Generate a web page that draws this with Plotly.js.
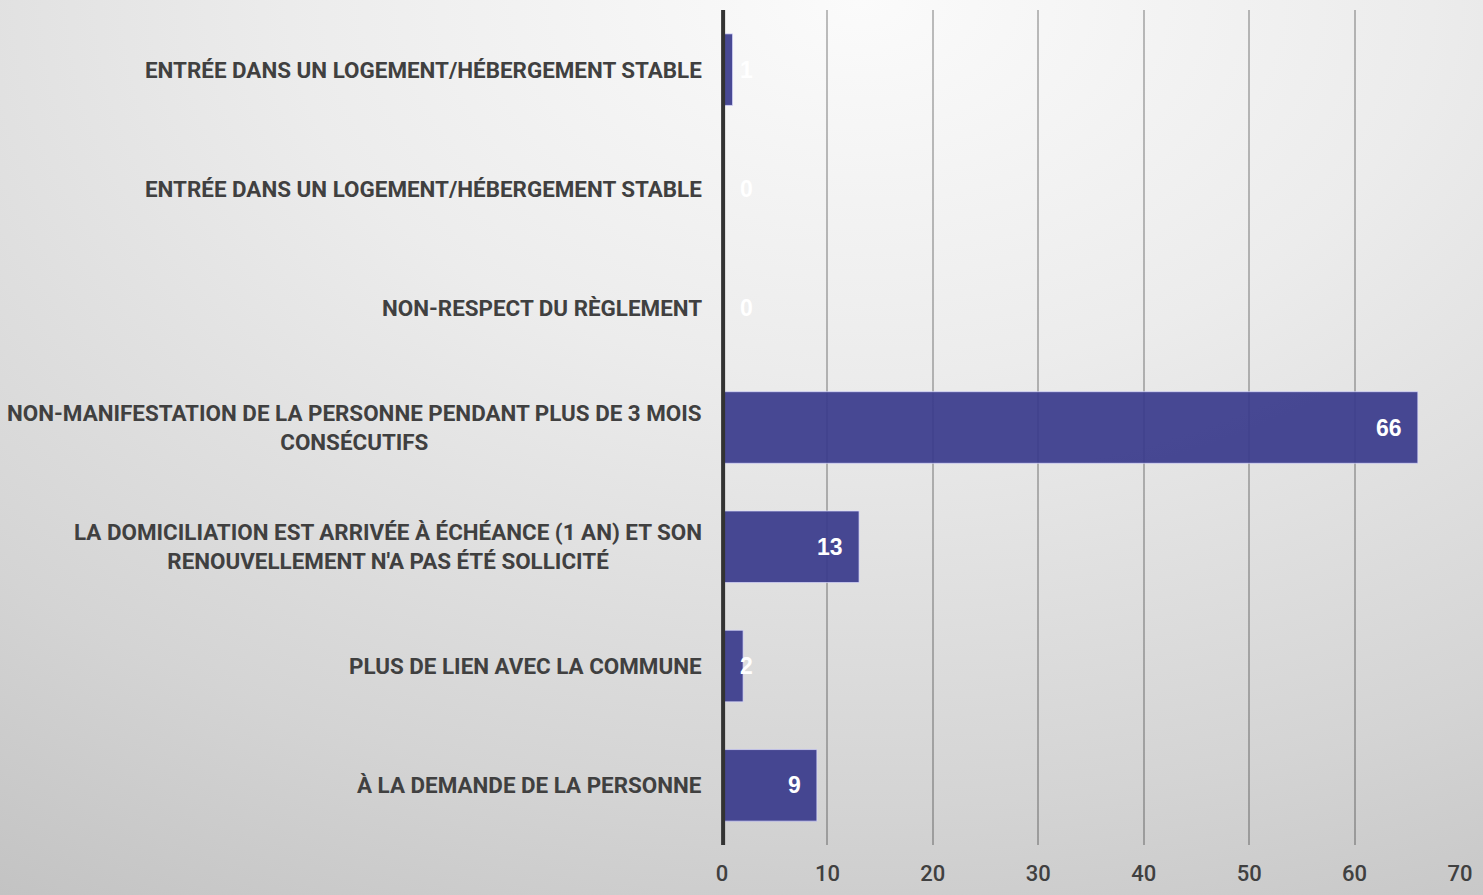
<!DOCTYPE html>
<html>
<head>
<meta charset="utf-8">
<script src="https://cdn.plot.ly/plotly-3.0.1.min.js"></script>
<style>
html,body{margin:0;padding:0;}
#wrap{width:1483px;height:895px;background:radial-gradient(ellipse 110% 120% at 58% 0%, #fbfbfb 0%, #ececec 35%, #d4d4d4 75%, #c2c2c2 100%);}
#chart{width:1483px;height:895px;}
</style>
</head>
<body>
<div id="wrap"><div id="chart"></div></div>
<script>
const categories = [
  "ENTRÉE DANS UN LOGEMENT/HÉBERGEMENT STABLE",
  "ENTRÉE DANS UN LOGEMENT/HÉBERGEMENT STABLE",
  "NON-RESPECT DU RÈGLEMENT",
  "NON-MANIFESTATION DE LA PERSONNE PENDANT PLUS DE 3 MOIS<br>CONSÉCUTIFS",
  "LA DOMICILIATION EST ARRIVÉE À ÉCHÉANCE (1 AN) ET SON<br>RENOUVELLEMENT N'A PAS ÉTÉ SOLLICITÉ",
  "PLUS DE LIEN AVEC LA COMMUNE",
  "À LA DEMANDE DE LA PERSONNE"
];
const values = [1, 0, 0, 66, 13, 2, 9];
const xTicks = [0, 10, 20, 30, 40, 50, 60, 70];

const positions = categories.map((c, i) => i);
const xMax = 70;
const plotW = 1460 - 722;
const pxPerUnit = plotW / xMax;

const labelFont = "Roboto, 'DejaVu Sans Condensed', sans-serif";

const annotations = [];
categories.forEach((c, i) => {
  annotations.push({
    xref: 'paper', yref: 'y', x: 0, y: i, xanchor: 'right', yanchor: 'middle',
    xshift: -18, text: '<b>' + c + '</b>', showarrow: false, align: 'center',
    font: {family: labelFont, size: 22.4, color: '#404040'}
  });
});
values.forEach((v, i) => {
  const fits = v * pxPerUnit > 45;
  annotations.push({
    xref: 'x', yref: 'y', x: fits ? v : 0, y: i,
    xanchor: fits ? 'right' : 'left', yanchor: 'middle',
    xshift: fits ? -14 : 16, showarrow: false,
    text: '<b>' + v + '</b>',
    font: {family: "'Liberation Sans', Arial, sans-serif", size: 23, color: '#ffffff'}
  });
});

const trace = {
  type: 'bar', orientation: 'h',
  x: values, y: positions,
  width: 0.6,
  marker: {color: 'rgba(58,59,140,0.93)', line: {color: 'rgba(220,220,255,0.7)', width: 1}},
  hoverinfo: 'x'
};

const layout = {
  width: 1483, height: 895,
  paper_bgcolor: 'rgba(0,0,0,0)', plot_bgcolor: 'rgba(0,0,0,0)',
  margin: {l: 722, r: 23, t: 10, b: 50},
  showlegend: false,
  xaxis: {
    range: [0, xMax], tickvals: xTicks, ticktext: xTicks.map(String),
    showgrid: true, gridcolor: 'rgba(0,0,0,0.25)', gridwidth: 2,
    zeroline: false, showline: false, ticks: '', ticklabelstandoff: 13,
    tickfont: {family: "Roboto, 'Liberation Sans', Arial, sans-serif", size: 22, color: '#404040', weight: 500},
    fixedrange: true
  },
  yaxis: {
    range: [6.5, -0.5], showticklabels: false, showgrid: false, zeroline: false,
    showline: false, ticks: '', fixedrange: true
  },
  shapes: [{
    type: 'line', xref: 'paper', yref: 'paper', x0: 0.0015, x1: 0.0015, y0: 0, y1: 1,
    line: {color: '#333333', width: 4}, layer: 'above'
  }],
  annotations: annotations
};

Plotly.newPlot('chart', [trace], layout, {displayModeBar: false, staticPlot: true});
</script>
</body>
</html>
